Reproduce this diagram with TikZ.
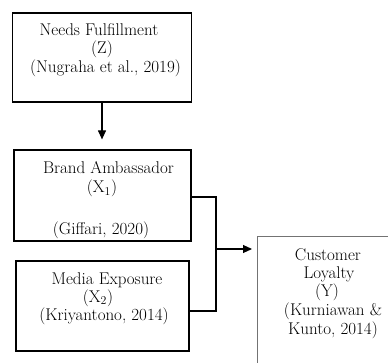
\documentclass[tikz,border=0pt]{standalone}
\usetikzlibrary{arrows.meta}
\begin{document}
\begin{tikzpicture}[x=1pt,y=-1pt,
  box/.style={draw=black,line width=1.2pt,inner sep=0pt,minimum width=#1},
  txt/.style={anchor=base,inner sep=0pt,font=\fontsize{17}{18}\selectfont},
  arr/.style={line width=1.1pt,-{Triangle[length=9pt,width=8pt]}},
  lnk/.style={line width=1.2pt}]
\clip (0,0) rectangle (388,363);
\useasboundingbox (0,0) rectangle (388,363);
\node[box=179pt,minimum height=89pt] (Z) at (102,57.5) {};
\node[box=177pt,minimum height=91pt] (X1) at (102.5,195.5) {};
\node[box=173pt,minimum height=90pt] (X2) at (102.5,306) {};
\node[draw=black!55,line width=0.8pt,inner sep=0pt,minimum width=400pt,minimum height=400pt,anchor=north west] (Y) at (257,236) {};
% texts
\node[txt] (z1) at (99,36) {Needs Fulfillment};
\node[txt] (z2) at (102,54) {(Z)};
\node[txt] (z3) at (105.5,73) {(Nugraha et al., 2019)};
\node[txt] (a1) at (108.5,174) {Brand Ambassador};
\node[txt] (a2) at (102,193) {(X\textsubscript{1})};
\node[txt] (a3) at (101,235) {(Giffari, 2020)};
\node[txt] (b1) at (107,284) {Media Exposure};
\node[txt] (b2) at (98,302) {(X\textsubscript{2})};
\node[txt] (b3) at (104,320) {(Kriyantono, 2014)};
\node[txt] (y1) at (328,261) {Customer};
\node[txt] (y2) at (329,279) {Loyalty};
\node[txt] (y3) at (327,297) {(Y)};
\node[txt] (y4) at (333,316) {(Kurniawan \&};
\node[txt] (y5) at (333,334) {Kunto, 2014)};
% connectors
\draw[arr] (Z.south) -- ([yshift=10pt]Z.south |- X1.north);
\coordinate (j1) at (216,197);
\coordinate (j2) at (216,311);
\coordinate (s) at (217,249);
\draw[lnk] (X1.east |- j1) -- (j1) -- (j2) -- (X2.east |- j2);
\draw[arr] (s) -- ([xshift=-5pt]Y.west |- s);
\end{tikzpicture}
\end{document}
